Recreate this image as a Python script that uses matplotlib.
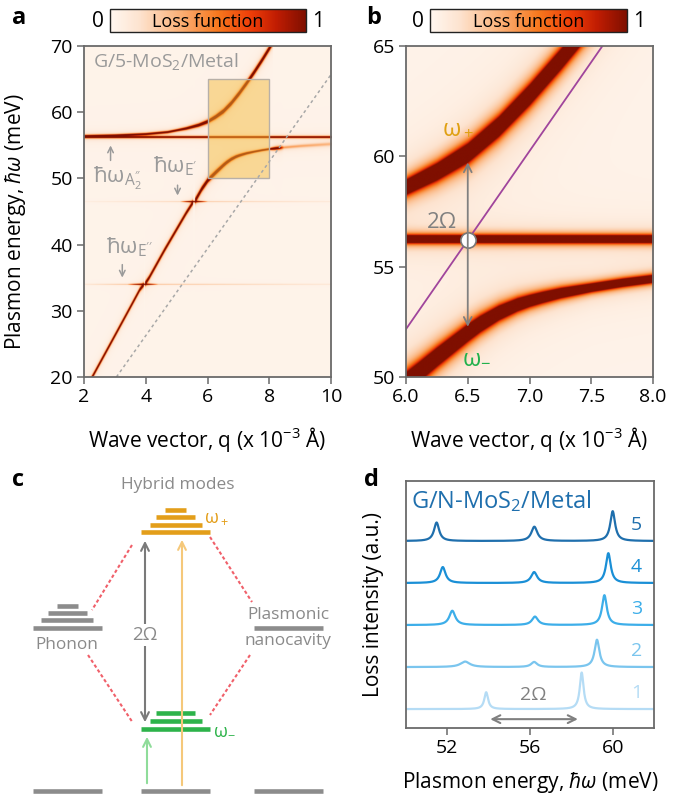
import numpy as np
import matplotlib
matplotlib.use("Agg")
import matplotlib.pyplot as plt
from matplotlib.colors import LinearSegmentedColormap, Normalize
from matplotlib.cm import ScalarMappable
from matplotlib.patches import Rectangle

plt.rcParams['font.family'] = ['Open Sans', 'DejaVu Sans']
plt.rcParams['mathtext.fontset'] = 'custom'
plt.rcParams['mathtext.rm'] = 'Open Sans'
plt.rcParams['mathtext.it'] = 'Open Sans:italic'
plt.rcParams['mathtext.bf'] = 'Open Sans:bold'

# ---------------------------------------------------------------------------
# Dispersion branches (q in 1e-3 1/Å, energy in meV), with loss amplitude and
# half-width (meV) along each branch
# ---------------------------------------------------------------------------
plasmon_low_q = [2.0, 2.3, 3.0, 3.5, 3.8, 3.93]
plasmon_low_E = [17.8, 20.3, 26.3, 30.6, 33.2, 33.95]
plasmon_mid_q = [3.97, 4.1, 4.6, 5.0, 5.3, 5.52]
plasmon_mid_E = [34.1, 35.0, 39.2, 42.4, 44.8, 46.4]
lower_q = [5.58, 5.8, 6.0, 6.1, 6.25, 6.5, 6.6, 6.75, 6.9, 7.0, 7.1, 7.25,
           7.5, 7.75, 8.0, 8.5, 9.0, 10.0]
lower_E = [46.6, 48.4, 49.75, 50.2, 50.9, 52.0, 52.4, 52.9, 53.27, 53.45,
           53.6, 53.8, 54.05, 54.27, 54.45, 54.7, 54.9, 55.2]
lower_amp_q = [5.58, 8.0, 8.45, 10.0]
lower_amp = [3.0, 3.0, 0.4, 0.3]
lower_width_q = [5.58, 6.0, 6.5, 7.0, 7.5, 8.0, 8.4, 10.0]
lower_width = [0.3, 0.3, 0.25, 0.17, 0.12, 0.11, 0.35, 0.45]
upper_q = [2.0, 3.0, 4.0, 4.7, 5.3, 5.7, 6.0, 6.25, 6.5, 6.75, 7.0, 7.25,
           7.5, 7.75, 8.0, 8.1]
upper_E = [56.4, 56.5, 56.7, 57.0, 57.55, 58.05, 58.6, 59.3, 60.15, 61.35,
           62.8, 64.4, 66.1, 67.9, 69.8, 70.6]
upper_width_q = [2.0, 5.0, 6.0, 6.5, 7.0, 8.0]
upper_width = [0.11, 0.13, 0.22, 0.28, 0.3, 0.3]

# phonon modes (meV) and their visibility along q
phonon_A2 = 56.25
phonon_E1 = 46.5
phonon_E2 = 34.0
E1_amp_q = [2.0, 5.1, 5.55, 6.0, 10.0]
E1_amp = [0.06, 0.2, 2.0, 0.25, 0.1]
E2_amp_q = [2.0, 3.4, 3.92, 4.4, 10.0]
E2_amp = [0.12, 0.3, 2.0, 0.3, 0.12]

# light line (a) and light cone guide (b)
light_a_q = [3.05, 10.0]
light_a_E = [20.0, 65.7]
light_b_q = [6.0, 7.59]
light_b_E = [52.17, 65.0]

# coupling point and Rabi splitting marked in (b)
cross_q = 6.5
cross_E = 56.2
rabi_lo = 52.15
rabi_hi = 59.85

# ---------------------------------------------------------------------------
# Loss spectra for N = 1..5 MoS2 layers (peak position, height, FWHM)
# ---------------------------------------------------------------------------
layers = [1, 2, 3, 4, 5]
low_pos = [53.88, 52.86, 52.24, 51.78, 51.48]
low_h = [0.40, 0.13, 0.34, 0.38, 0.44]
low_w = [0.22, 0.55, 0.35, 0.32, 0.30]
mid_pos = [56.2, 56.2, 56.24, 56.2, 56.21]
mid_h = [0.0, 0.12, 0.20, 0.26, 0.34]
mid_w = [0.35, 0.35, 0.35, 0.35, 0.35]
up_pos = [58.5, 59.24, 59.6, 59.79, 60.0]
up_h = [0.87, 0.65, 0.71, 0.71, 0.71]
up_w = [0.22, 0.28, 0.28, 0.28, 0.28]
layer_colors = ['#b5dcf5', '#7ac5ee', '#3daee9', '#1a8fd6', '#1f6fad']
rabi_d_lo = 53.94
rabi_d_hi = 58.45

# ---------------------------------------------------------------------------
loss_cmap = LinearSegmentedColormap.from_list('loss', [
    (0.0, '#fff7f0'), (0.15, '#fde3cf'), (0.35, '#fbb27a'), (0.55, '#f7781e'),
    (0.72, '#ee3d08'), (0.85, '#c01c02'), (1.0, '#7f0f00')])

SPINE = '#6a6a6a'
GRAY_TXT = '#9a9a9a'
TICK_FS = 14


def lorentz(x, x0, g):
    return g ** 2 / ((x - x0) ** 2 + g ** 2)


def loss_map(q, E, wscale=1.0):
    """Loss function on a (q, E) grid; wscale sets the rendered line width."""
    Q, EE = np.meshgrid(q, E)
    out = np.full(Q.shape, 0.03)

    def add_branch(bq, bE, amp, width):
        Eb = np.interp(q, bq, bE, left=np.nan, right=np.nan)
        a = np.broadcast_to(amp, q.shape)
        w = np.broadcast_to(width, q.shape) * wscale
        val = a[None, :] * lorentz(EE, Eb[None, :], w[None, :])
        return np.nan_to_num(val)

    out += add_branch(plasmon_low_q, plasmon_low_E, 3.0, 0.22)
    out += add_branch(plasmon_mid_q, plasmon_mid_E, 3.0, 0.24)
    out += add_branch(lower_q, lower_E, np.interp(q, lower_amp_q, lower_amp),
                      np.interp(q, lower_width_q, lower_width))
    out += add_branch(upper_q, upper_E, 3.0, np.interp(q, upper_width_q, upper_width))
    full = [2.0, 10.0]
    out += add_branch(full, [phonon_A2] * 2, 3.0, 0.11)
    out += add_branch(full, [phonon_E1] * 2, np.interp(q, E1_amp_q, E1_amp), 0.1)
    out += add_branch(full, [phonon_E2] * 2, np.interp(q, E2_amp_q, E2_amp), 0.1)
    return np.clip(out, 0, 1)


def style_axes(ax):
    for s in ax.spines.values():
        s.set_color(SPINE)
        s.set_linewidth(1.3)
    ax.tick_params(direction='out', length=5, width=1.1, color=SPINE,
                   labelsize=TICK_FS, pad=3)


def add_colorbar(fig, rect):
    cax = fig.add_axes(rect)
    cb = fig.colorbar(ScalarMappable(norm=Normalize(0, 1), cmap=loss_cmap),
                      cax=cax, orientation='horizontal')
    cb.set_ticks([])
    cb.outline.set_edgecolor('#222222')
    cb.outline.set_linewidth(1.0)
    cax.text(0.5, 0.45, 'Loss function', transform=cax.transAxes,
             ha='center', va='center', fontsize=13)
    cax.text(-0.03, 0.45, '0', transform=cax.transAxes, ha='right',
             va='center', fontsize=15)
    cax.text(1.03, 0.45, '1', transform=cax.transAxes, ha='left',
             va='center', fontsize=15)


fig = plt.figure(figsize=(7.0, 8.02), dpi=100)

# ----------------------------- panel a -----------------------------
ax_a = fig.add_axes([0.12, 0.5299, 0.3529, 0.4127])
qa = np.linspace(2, 10, 1400)
Ea = np.linspace(15, 72, 2600)
ax_a.imshow(loss_map(qa, Ea, wscale=0.6), extent=[qa[0], qa[-1], Ea[0], Ea[-1]],
            origin='lower', aspect='auto', cmap=loss_cmap, vmin=0, vmax=1,
            interpolation='antialiased')
ax_a.plot(light_a_q, light_a_E, color='#a8a8a8', lw=1.1, ls=(0, (2, 2)))
ax_a.add_patch(Rectangle((6.0, 50.0), 2.0, 15.0, facecolor='#f5b830',
                         alpha=0.45, edgecolor='none'))
ax_a.add_patch(Rectangle((6.0, 50.0), 2.0, 15.0, facecolor='none',
                         edgecolor='#b8b0a8', lw=1.0))
ax_a.set_xlim(2, 10)
ax_a.set_ylim(20, 70)
ax_a.set_xticks([2, 4, 6, 8, 10])
ax_a.set_yticks([20, 30, 40, 50, 60, 70])
style_axes(ax_a)
ax_a.set_xlabel('Wave vector, q (x 10$^{-3}$ Å)', fontsize=15)
ax_a.xaxis.set_label_coords(0.5, -0.145)
ax_a.set_ylabel('Plasmon energy, $\\hbar\\omega$ (meV)', fontsize=15)
ax_a.yaxis.set_label_coords(-0.225, 0.47)

ax_a.text(2.29, 67.6, 'G/5-MoS$_2$/Metal', color=GRAY_TXT, fontsize=14,
          ha='left', va='center')
arrow_kw = dict(arrowstyle='->', color=GRAY_TXT, lw=1.1, mutation_scale=10)
ax_a.annotate('', xy=(2.86, 55.4), xytext=(2.86, 52.3), arrowprops=arrow_kw)
ax_a.text(2.3, 50.0, 'ħω$_{\\mathregular{A_2^{\\prime\\prime}}}$', color=GRAY_TXT,
          fontsize=16, ha='left', va='center')
ax_a.annotate('', xy=(5.03, 47.0), xytext=(5.03, 49.4), arrowprops=arrow_kw)
ax_a.text(4.25, 51.8, 'ħω$_{\\mathregular{E^{\\prime}}}$', color=GRAY_TXT,
          fontsize=16, ha='left', va='center')
ax_a.annotate('', xy=(3.24, 34.6), xytext=(3.24, 37.4), arrowprops=arrow_kw)
ax_a.text(2.7, 39.6, 'ħω$_{\\mathregular{E^{\\prime\\prime}}}$', color=GRAY_TXT,
          fontsize=16, ha='left', va='center')
add_colorbar(fig, [0.1571, 0.9601, 0.28, 0.0287])

# ----------------------------- panel b -----------------------------
ax_b = fig.add_axes([0.58, 0.5299, 0.3529, 0.4127])
qb = np.linspace(6, 8, 800)
Eb = np.linspace(49.5, 65.5, 1600)
ax_b.imshow(loss_map(qb, Eb), extent=[qb[0], qb[-1], Eb[0], Eb[-1]],
            origin='lower', aspect='auto', cmap=loss_cmap, vmin=0, vmax=1,
            interpolation='antialiased')
ax_b.plot(light_b_q, light_b_E, color='#a0459c', lw=1.3)
ax_b.annotate('', xy=(cross_q, rabi_hi), xytext=(cross_q, rabi_lo),
              arrowprops=dict(arrowstyle='<->', color='#808080', lw=1.3,
                              mutation_scale=14))
ax_b.plot([cross_q], [cross_E], 'o', ms=11, mfc='white', mec='#777777', mew=1.2)
ax_b.text(6.29, 57.0, '2Ω', color='#808080', fontsize=16, ha='center', va='center')
ax_b.text(6.42, 61.3, 'ω$_+$', color='#e0a012', fontsize=17, ha='center', va='center')
ax_b.text(6.57, 50.9, 'ω$_{-}$', color='#22b14c', fontsize=17, ha='center', va='center')
ax_b.set_xlim(6, 8)
ax_b.set_ylim(50, 65)
ax_b.set_xticks([6.0, 6.5, 7.0, 7.5, 8.0])
ax_b.set_xticklabels(['6.0', '6.5', '7.0', '7.5', '8.0'])
ax_b.set_yticks([50, 55, 60, 65])
style_axes(ax_b)
ax_b.set_xlabel('Wave vector, q (x 10$^{-3}$ Å)', fontsize=15)
ax_b.xaxis.set_label_coords(0.5, -0.145)
add_colorbar(fig, [0.6143, 0.9601, 0.2814, 0.0287])

# ----------------------------- panel c -----------------------------
ax_c = fig.add_axes([0.0, 0.0, 0.5, 0.5])
ax_c.set_xlim(0, 350)
ax_c.set_ylim(802, 401)
ax_c.axis('off')
LVL = 3.3
bar_gray = '#8c8c8c'
c_orange = '#e39e1a'
c_green = '#2db34a'


def level(x0, x1, y, color):
    ax_c.plot([x0, x1], [y, y], color=color, lw=LVL, solid_capstyle='butt')


for x0, x1, y in [(57, 78, 606), (48, 87, 613), (41, 93, 620), (33, 102, 628)]:
    level(x0, x1, y, bar_gray)
level(254, 323, 628, bar_gray)
for x0, x1, y in [(165, 186, 510), (156, 195, 517), (150, 202, 525), (141, 210, 532)]:
    level(x0, x1, y, c_orange)
for x0, x1, y in [(156, 195, 713), (150, 202, 721), (141, 210, 729)]:
    level(x0, x1, y, c_green)
for x0, x1 in [(33, 102), (141, 210), (254, 323)]:
    level(x0, x1, 791, bar_gray)

red_kw = dict(color='#f0606a', lw=1.5, ls=(0, (1.6, 1.2)))
ax_c.plot([132, 92], [545, 610], **red_kw)
ax_c.plot([210, 252], [537, 602], **red_kw)
ax_c.plot([88, 133], [655, 723], **red_kw)
ax_c.plot([250, 210], [655, 715], **red_kw)

ax_c.annotate('', xy=(182, 537), xytext=(182, 788),
              arrowprops=dict(arrowstyle='->', color='#f5c87a', lw=1.5,
                              mutation_scale=14))
ax_c.annotate('', xy=(147, 734), xytext=(147, 786),
              arrowprops=dict(arrowstyle='->', color='#8fdc9a', lw=1.5,
                              mutation_scale=14))
ax_c.annotate('', xy=(145, 538), xytext=(145, 725),
              arrowprops=dict(arrowstyle='<->', color='#7a7a7a', lw=1.5,
                              mutation_scale=14))
ax_c.text(145, 635, '2Ω', color='#8a8a8a', fontsize=13.5, ha='center', va='center',
          bbox=dict(facecolor='white', edgecolor='none', pad=1.5))
ax_c.text(178, 485, 'Hybrid modes', color='#8a8a8a', fontsize=12.4,
          ha='center', va='center')
ax_c.text(67, 645, 'Phonon', color='#8a8a8a', fontsize=12.4, ha='center', va='center')
ax_c.text(288, 615, 'Plasmonic', color='#8a8a8a', fontsize=12.4, ha='center', va='center')
ax_c.text(288, 641, 'nanocavity', color='#8a8a8a', fontsize=12.4, ha='center', va='center')
ax_c.text(204, 517, 'ω$_+$', color=c_orange, fontsize=13, ha='left', va='center')
ax_c.text(213, 729, 'ω$_{-}$', color=c_green, fontsize=13, ha='left', va='center')

# ----------------------------- panel d -----------------------------
ax_d = fig.add_axes([0.58, 0.0923, 0.3543, 0.308])
Ed = np.linspace(50, 62, 3000)
for i, n in enumerate(layers):
    spec = (low_h[i] * lorentz(Ed, low_pos[i], low_w[i] / 2)
            + mid_h[i] * lorentz(Ed, mid_pos[i], mid_w[i] / 2)
            + up_h[i] * lorentz(Ed, up_pos[i], up_w[i] / 2))
    ax_d.plot(Ed, spec + i, color=layer_colors[i], lw=1.6)
    ax_d.text(61.15, i + 0.38, str(n), color=layer_colors[i], fontsize=14,
              ha='center', va='center')
ax_d.annotate('', xy=(rabi_d_hi, -0.24), xytext=(rabi_d_lo, -0.24),
              arrowprops=dict(arrowstyle='<->', color='#808080', lw=1.5,
                              mutation_scale=14))
ax_d.text(56.15, 0.33, '2Ω', color='#808080', fontsize=14, ha='center', va='center')
ax_d.text(50.26, 4.94, 'G/N-MoS$_2$/Metal', color='#1f6fad', fontsize=17,
          ha='left', va='center')
ax_d.set_xlim(50, 62)
ax_d.set_ylim(-0.45, 5.43)
ax_d.set_xticks([52, 56, 60])
ax_d.set_yticks([])
style_axes(ax_d)
ax_d.set_xlabel('Plasmon energy, $\\hbar\\omega$ (meV)', fontsize=15)
ax_d.xaxis.set_label_coords(0.5, -0.17)
ax_d.set_ylabel('Loss intensity (a.u.)', fontsize=15)
ax_d.yaxis.set_label_coords(-0.09, 0.5)

# panel letters
for x, y, s in [(12, 18, 'a'), (366, 18, 'b'), (12, 480, 'c'), (364, 480, 'd')]:
    fig.text(x / 700, 1 - y / 802, s, fontsize=17, fontweight='bold',
             ha='left', va='center')

fig.savefig('out.png', dpi=100)
